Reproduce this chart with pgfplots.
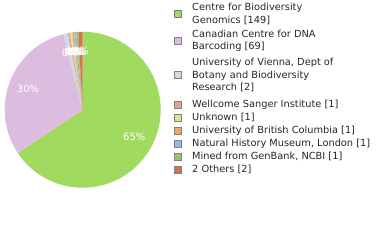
\documentclass[border=0pt]{standalone}
\usepackage{pgfplots}
\usepackage{pgfplotstable}
\pgfplotsset{compat=1.18}
\usepackage{fontspec}
\setmainfont{DejaVu Sans}
\definecolor{pc0}{HTML}{A0DA5E}
\definecolor{pc1}{HTML}{DDBDDF}
\definecolor{pc2}{HTML}{CEDCE8}
\definecolor{pc3}{HTML}{E0A49C}
\definecolor{pc4}{HTML}{DCE29C}
\definecolor{pc5}{HTML}{F0AA6C}
\definecolor{pc6}{HTML}{98B8DC}
\definecolor{pc7}{HTML}{98C46C}
\definecolor{pc8}{HTML}{D87058}
\pgfplotstableread{
count
149
69
2
1
1
1
1
1
2
}\pietable
\newcommand\piefont{\fontsize{10}{11}\selectfont}
\newcommand\legfont{\fontsize{9.8}{12.5}\selectfont}
\begin{document}
\begin{tikzpicture}[x=1pt,y=1pt]
\pgfplotstablegetrowsof{\pietable}
\pgfmathtruncatemacro\nrows{\pgfplotsretval-1}
\gdef\pietotal{0}
\foreach \i in {0,...,\nrows}{
  \pgfplotstablegetelem{\i}{count}\of\pietable
  \pgfmathsetmacro\t{\pietotal+\pgfplotsretval}
  \xdef\pietotal{\t}
}
\gdef\piecum{0}
\gdef\piecmds{}
\gdef\pielabels{}
\foreach \i in {0,...,\nrows}{
  \pgfplotstablegetelem{\i}{count}\of\pietable
  \let\v\pgfplotsretval
  \pgfmathsetmacro\aS{90-360*(\piecum/\pietotal)}
  \pgfmathsetmacro\newcum{\piecum+\v}
  \xdef\piecum{\newcum}
  \pgfmathsetmacro\aE{90-360*(\piecum/\pietotal)}
  \pgfmathsetmacro\aM{(\aS+\aE)/2}
  \pgfmathsetmacro\lx{0.75*cos(\aM)}
  \pgfmathsetmacro\ly{0.75*sin(\aM)}
  \pgfmathtruncatemacro\pct{100*(\v/\pietotal)}
  \xdef\piecmds{\unexpanded\expandafter{\piecmds}\noexpand\fill[pc\i] (axis cs:0,0) -- ++(\aS:78pt) arc[start angle=\aS, end angle=\aE, radius=78pt] -- cycle;}
  \xdef\pielabels{\unexpanded\expandafter{\pielabels}\noexpand\node[text=white, font=\noexpand\piefont, inner sep=0pt] at (axis cs:\lx,\ly) {\pct\noexpand\%};}
}
\begin{axis}[at={(6,67)}, anchor=south west, hide axis, x=78pt, y=78pt,
  xmin=-1, xmax=1, ymin=-1, ymax=1, clip=false]
\addplot[draw=none] coordinates {(0,0)};
\piecmds
\pielabels
\end{axis}
% legend
\foreach \c/\yy/\txt in {
  pc0/14/{Centre for Biodiversity\\Genomics [149]},
  pc1/41/{Canadian Centre for DNA\\Barcoding [69]},
  pc2/75/{University of Vienna, Dept of\\Botany and Biodiversity\\Research [2]},
  pc3/104.5/{Wellcome Sanger Institute [1]},
  pc4/117.5/{Unknown [1]},
  pc5/130.5/{University of British Columbia [1]},
  pc6/143.5/{Natural History Museum, London [1]},
  pc7/156.5/{Mined from GenBank, NCBI [1]},
  pc8/169.5/{2 Others [2]}}{
  \filldraw[fill=\c, draw=gray, line width=0.8pt] (174.5,240-\yy-3.5) rectangle ++(7,7);
  \node[anchor=west, align=left, font=\legfont, inner sep=0pt, text=black!85] at (192,240-\yy) {\txt};
}
\pgfresetboundingbox
\path (0,0) rectangle (380,240);
\end{tikzpicture}
\end{document}
